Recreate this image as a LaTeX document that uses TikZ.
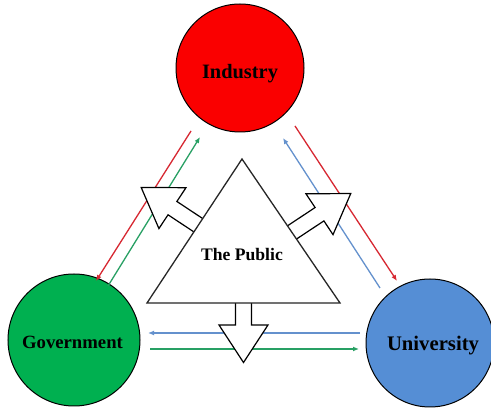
\documentclass[tikz,border=0pt]{standalone}
\usepackage{fontspec}
\setmainfont{Liberation Serif}
\usetikzlibrary{calc,arrows.meta}
\definecolor{indred}{RGB}{250,0,0}
\definecolor{govgreen}{RGB}{0,176,80}
\definecolor{unblue}{RGB}{85,142,213}
\definecolor{lnred}{RGB}{215,40,50}
\definecolor{lngreen}{RGB}{40,160,100}
\definecolor{lnblue}{RGB}{100,145,205}
\tikzset{
  circ/.style={circle, draw=black, line width=1pt, minimum size=#1, inner sep=0pt},
  lbl/.style={font=\bfseries, inner sep=0pt, text=black},
  conn/.style={line width=1.3pt, -{Latex[length=6pt,width=5pt]}},
  blockline/.style={draw=black, fill=white, line width=1.2pt, line join=miter},
  tri/.style={draw=black!85, fill=white, line width=1.3pt, line join=miter},
  pics/blockarr/.style={code={
    \draw[blockline] (-6,-8) -- (#1,-8) -- (#1,-24.5) -- (#1+37.5,0) -- (#1,24.5) -- (#1,8) -- (-6,8) -- cycle;
  }}
}
\begin{document}
\begin{tikzpicture}[x=1pt,y=-1pt]
\useasboundingbox (0,0) rectangle (491,414);
\fill[white] (0,0) rectangle (491,414);
% circles
\node[circ=128pt, fill=indred] (ind) at (240,68) {};
\node[circ=132pt, fill=govgreen] (gov) at (74,340) {};
\node[circ=128pt, fill=unblue] (uni) at (430,343) {};
\node[lbl, font=\bfseries\fontsize{20.4}{22}\selectfont] (indt) at (240,73.5) {Industry};
\node[lbl, font=\bfseries\fontsize{18.7}{20}\selectfont] (govt) at (72.5,342.6) {Government};
\node[lbl, font=\bfseries\fontsize{20.7}{22}\selectfont] (unit) at (433,345.5) {University};
% connectors
\draw[conn, lnred] ($(ind.center)+(-49,63)$) -- ($(gov.center)+(22,-59)$);
\draw[conn, lngreen] ($(gov.center)+(34,-54)$) -- ($(ind.center)+(-40,69)$);
\draw[conn, lnblue] ($(uni.center)+(-50,-55)$) -- ($(ind.center)+(43,70)$);
\draw[conn, lnred] ($(ind.center)+(55,58)$) -- ($(uni.center)+(-33,-62)$);
\draw[conn, lnblue] ($(uni.center)+(-70,-10)$) -- ($(gov.center)+(74,-7)$);
\draw[conn, lngreen] ($(gov.center)+(76,9)$) -- ($(uni.center)+(-71,6)$);
% triangle corners
\coordinate (tA) at (242,159);
\coordinate (tB) at (147,303);
\coordinate (tC) at (340,303);
% block arrows
\pic[rotate=146.5] at ($(tA)!0.46!(tB)$) {blockarr=31};
\pic[rotate=33.5] at ($(tA)!0.51!(tC)$) {blockarr=33};
\pic[rotate=-90] at ($(tB)!0.5!(tC)$) {blockarr=22};
% triangle
\draw[tri] (tA) -- (tB) -- (tC) -- cycle;
\node[lbl, font=\bfseries\fontsize{17.6}{19}\selectfont] (pub) at (242,254.7) {The Public};
\end{tikzpicture}
\end{document}
